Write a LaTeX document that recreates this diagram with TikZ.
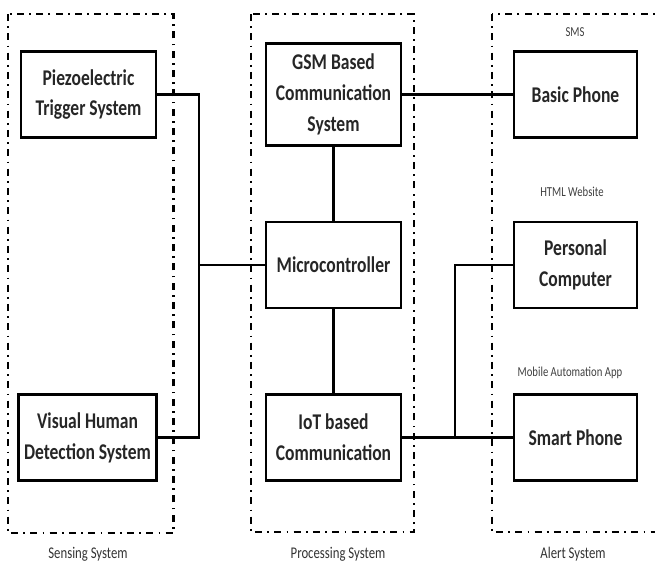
\documentclass[tikz,border=0pt]{standalone}
\usepackage{fontspec}
\setmainfont{Carlito}[FakeStretch=0.78]
\usepackage{tikz}
\usetikzlibrary{positioning, calc}

\tikzset{
    block/.style={draw, line width=1.5pt, minimum width=2.7cm, minimum height=1.72cm,
        align=center, font=\fontsize{12.8}{17.6}\selectfont\bfseries, text=black!85},
    group/.style={line width=1.3pt, dash pattern=on 4pt off 3pt on 1pt off 3pt},
    wire/.style={line width=1.3pt},
    note/.style={font=\fontsize{7.8}{9}\selectfont, text=black!75},
    caption/.style={font=\fontsize{9.3}{11}\selectfont, text=black!80}
}

\begin{document}
\begin{tikzpicture}
    \useasboundingbox (0,0) rectangle (13.1,-11.28);

    % Groups
    \draw[group] (0.16,-0.28) rectangle (3.47,-10.66);
    \draw[group] (5.02,-0.28) rectangle (8.28,-10.64);
    \draw[group] (9.84,-0.28) rectangle (13.6,-10.64);

    % Sensing
    \node[block] (piezo) at (1.77,-1.89) {Piezoelectric\\Trigger System};
    \node[block] (visual) at (1.75,-8.75) {Visual Human\\Detection System};

    % Processing
    \node[block, minimum height=2.04cm] (gsm) at (6.67,-1.89) {GSM Based\\Communication\\System};
    \node[block] (micro) at (6.67,-5.3) {Microcontroller};
    \node[block] (iot) at (6.67,-8.75) {IoT based\\Communication};

    % Alert
    \node[block, minimum width=2.46cm] (basic) at (11.51,-1.89) {Basic Phone};
    \node[block, minimum width=2.46cm] (pc) at (11.51,-5.3) {Personal\\Computer};
    \node[block, minimum width=2.46cm] (smart) at (11.51,-8.75) {Smart Phone};

    % Channel labels
    \node[note] (sms) at (11.5,-0.64) {SMS};
    \node[note] (html) at (11.44,-3.84) {HTML Website};
    \node[note] (app) at (11.4,-7.46) {Mobile Automation App};

    % Group captions
    \node[caption] (sens) at (1.76,-11.08) {Sensing System};
    \node[caption] (proc) at (6.76,-11.08) {Processing System};
    \node[caption] (alert) at (11.46,-11.08) {Alert System};

    % Wiring
    \coordinate (jl) at (3.98,-5.3);
    \coordinate (jr) at (9.1,-8.75);
    \draw[wire] (piezo.east) -| (jl) |- (visual.east);
    \draw[wire] (jl) -- (micro.west);
    \draw[wire] (gsm.east) -- (basic.west);
    \draw[wire] (gsm.south) -- (micro.north);
    \draw[wire] (micro.south) -- (iot.north);
    \draw[wire] (iot.east) -- (smart.west);
    \draw[wire] (jr) |- (pc.west);
\end{tikzpicture}
\end{document}
